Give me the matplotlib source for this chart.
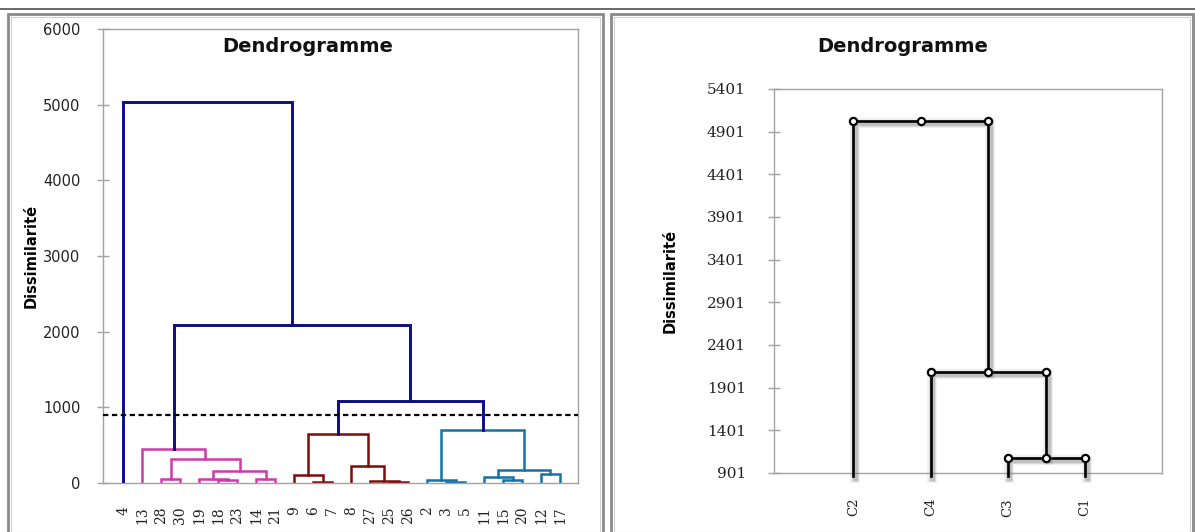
import matplotlib
matplotlib.use('Agg')
import matplotlib.pyplot as plt
import matplotlib.patheffects as pe
from matplotlib.patches import Rectangle
from matplotlib.lines import Line2D


W_PX, H_PX = 1195, 532

# Observations, in the order they appear along the x axis
LEAVES = ['4', '13', '28', '30', '19', '18', '23', '14', '21',
          '9', '6', '7', '8', '27', '25', '26',
          '2', '3', '5', '11', '15', '20', '12', '17']

# Agglomeration steps: (left child, right child, dissimilarity).
# A child is either a leaf label or the index of an earlier step.
MERGE_LEFT = ['28', '18', '19', '14', 2, 0, '13',
              '6', '9', '25', '27', '8', 8,
              '3', '2', '15', '11', '12', 16, 14,
              12, 6, '4']
MERGE_RIGHT = ['30', '23', 1, '21', 3, 4, 5,
               '7', 7, '26', 9, 10, 11,
               '5', 13, '20', 15, '17', 17, 18,
               19, 20, 21]
MERGE_HEIGHT = [57, 35, 57, 57, 154, 317, 445,
                13, 101, 9, 26, 220, 648,
                13, 40, 40, 84, 115, 168, 705,
                1080, 2090, 5030]
MERGE_GROUP = ['pink'] * 7 + ['red'] * 6 + ['blue'] * 7 + ['top'] * 3

GROUP_COLORS = {'pink': '#cf3aa9', 'red': '#7f0a0a',
                'blue': '#1473a8', 'top': '#0c0c86'}

TRUNCATION = 900

# Class-level dendrogram
CLASS_LEAVES = ['C2', 'C4', 'C3', 'C1']
CLASS_LEFT = ['C3', 'C4', 'C2']
CLASS_RIGHT = ['C1', 0, 1]
CLASS_HEIGHT = [1075, 2085, 5026]

LEFT_YTICKS = [0, 1000, 2000, 3000, 4000, 5000, 6000]
RIGHT_YTICKS = [901, 1401, 1901, 2401, 2901, 3401, 3901, 4401, 4901, 5401]

SPINE_GRAY = '#a3a3a3'


def px_rect(left, top, right, bottom):
    return [left / W_PX, 1 - bottom / H_PX, (right - left) / W_PX, (bottom - top) / H_PX]


def build_links(leaves, lefts, rights, heights):
    # returns a list of U-shaped links and the x of every node
    pos = {name: i for i, name in enumerate(leaves)}
    node_x, node_h, links = [], [], []

    def locate(child):
        if isinstance(child, str):
            return pos[child], None
        return node_x[child], node_h[child]

    for l, r, h in zip(lefts, rights, heights):
        xl, hl = locate(l)
        xr, hr = locate(r)
        links.append((xl, hl, xr, hr, h))
        node_x.append((xl + xr) / 2)
        node_h.append(h)
    return links, node_x


def style_box(ax):
    for sp in ax.spines.values():
        sp.set_color(SPINE_GRAY)
        sp.set_linewidth(1.0)
    ax.tick_params(axis='y', direction='inout', length=8.5, width=1.0,
                   color=SPINE_GRAY)
    ax.tick_params(axis='x', length=0)


def draw_observations(fig):
    ax = fig.add_axes(px_rect(103, 29, 578, 483))
    links, _ = build_links(LEAVES, MERGE_LEFT, MERGE_RIGHT, MERGE_HEIGHT)
    for (xl, hl, xr, hr, h), grp in zip(links, MERGE_GROUP):
        hl = 0 if hl is None else hl
        hr = 0 if hr is None else hr
        lw = 2.1 if grp == 'top' else 1.8
        ax.plot([xl, xl, xr, xr], [hl, h, h, hr], color=GROUP_COLORS[grp],
                lw=lw, solid_joinstyle='miter', zorder=3 if grp == 'top' else 2)

    ax.axhline(TRUNCATION, color='black', lw=1.6, ls=(0, (2.4, 1.6)), zorder=4)

    ax.set_xlim(-1.07, 23.95)
    ax.set_ylim(0, 6000)
    ax.set_yticks(LEFT_YTICKS)
    ax.set_yticklabels([str(v) for v in LEFT_YTICKS], fontsize=10.5, color='#222222')
    ax.set_xticks(range(len(LEAVES)))
    ax.set_xticklabels(LEAVES, rotation=90, fontsize=10, family='DejaVu Serif',
                       color='#222222')
    style_box(ax)
    ax.tick_params(axis='y', pad=12)
    ax.tick_params(axis='x', pad=17)


def draw_classes(fig):
    ax = fig.add_axes(px_rect(774, 89, 1162, 473))
    links, _ = build_links(CLASS_LEAVES, CLASS_LEFT, CLASS_RIGHT, CLASS_HEIGHT)
    shadow = [pe.SimpleLineShadow(offset=(1.2, -1.2), shadow_color='#777777',
                                  alpha=a, linewidth=w)
              for a, w in ((0.12, 7), (0.18, 5), (0.25, 3.5))] + [pe.Normal()]
    bottom = 860
    for xl, hl, xr, hr, h in links:
        hl = bottom if hl is None else hl
        hr = bottom if hr is None else hr
        ax.plot([xl, xl, xr, xr], [hl, h, h, hr], color='black', lw=1.9,
                solid_joinstyle='miter', clip_on=False, zorder=3,
                path_effects=shadow)
    for xl, hl, xr, hr, h in links:
        ax.plot([xl, (xl + xr) / 2, xr], [h, h, h], ls='none', marker='o',
                ms=5.2, mfc='white', mec='black', mew=1.6, zorder=5,
                clip_on=False)

    ax.set_xlim(-1.03, 4.0)
    ax.set_ylim(901, 5401)
    ax.set_yticks(RIGHT_YTICKS)
    ax.set_yticklabels([str(v) for v in RIGHT_YTICKS], fontsize=11,
                       family='DejaVu Serif', color='#222222')
    ax.set_xticks(range(len(CLASS_LEAVES)))
    ax.set_xticklabels(CLASS_LEAVES, rotation=90, fontsize=9.5,
                       family='DejaVu Serif', color='#222222')
    style_box(ax)
    ax.tick_params(axis='y', pad=16)
    ax.tick_params(axis='x', pad=18)


def draw_frames(fig):
    # line along the top and a double grey frame around each panel
    fig.add_artist(Line2D([0, 1], [1 - 9 / H_PX] * 2, color='#5e5e5e', lw=1.3,
                          transform=fig.transFigure))
    for left, right in ((8, 603), (611, 1193)):
        fig.add_artist(Rectangle((left / W_PX, 0 - 1 / H_PX),
                                 (right - left) / W_PX, (531 - 13) / H_PX + 1 / H_PX,
                                 transform=fig.transFigure, fill=False,
                                 ec='#8a8a8a', lw=2.0))
        fig.add_artist(Rectangle(((left + 3) / W_PX, 0),
                                 (right - left - 6) / W_PX, (531 - 16) / H_PX,
                                 transform=fig.transFigure, fill=False,
                                 ec='#d0d0d0', lw=0.8))


def main():
    fig = plt.figure(figsize=(W_PX / 100, H_PX / 100), dpi=100)
    draw_frames(fig)
    draw_observations(fig)
    draw_classes(fig)

    for x in (308, 903):
        fig.text(x / W_PX, 1 - 46 / H_PX, 'Dendrogramme', ha='center', va='center',
                 fontsize=14, fontweight='bold', color='#111111')
    fig.text(31 / W_PX, 1 - 256 / H_PX, 'Dissimilarité', rotation=90, ha='center',
             va='center', fontsize=10.5, fontweight='bold')
    fig.text(670 / W_PX, 1 - 281 / H_PX, 'Dissimilarité', rotation=90, ha='center',
             va='center', fontsize=10.5, fontweight='bold')

    fig.savefig('out.png', dpi=100)


if __name__ == '__main__':
    main()
